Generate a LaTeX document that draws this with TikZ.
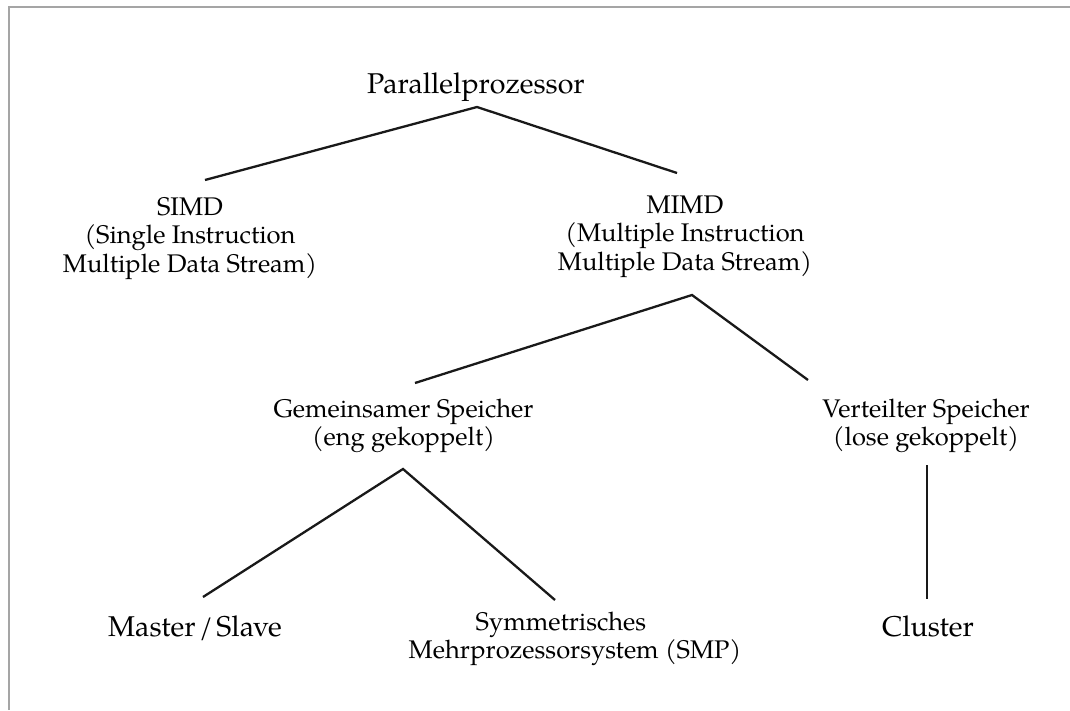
\documentclass[tikz,border=0pt]{standalone}
\usepackage{fontspec}
\setmainfont{TeX Gyre Pagella}
\usetikzlibrary{calc}
\definecolor{framegray}{RGB}{165,165,165}
\begin{document}
\begin{tikzpicture}[x=1pt,y=-1pt,
  big/.style={font=\fontsize{28.6}{34}\selectfont, inner sep=0pt, anchor=base, align=center},
  mid/.style={font=\fontsize{25.5}{28.5}\selectfont, inner sep=0pt, anchor=base, align=center},
  link/.style={line width=2.3pt, color=black!90},
  frame/.style={line width=2pt, color=framegray}]
\useasboundingbox (0,0) rectangle (1070,710);
% page frame (top and left edge)
\draw[frame] (9,710) -- (9,7) -- (1070,7);

% tree nodes (multi-line nodes are placed by the baseline of their last line)
\node[big] (par) at (476,93) {Parallelprozessor};
\node[mid] (simd) at (190,272) {SIMD\\(Single Instruction\\Multiple Data Stream)};
\node[mid] (mimd) at (685,270) {MIMD\\(Multiple Instruction\\Multiple Data Stream)};
\node[mid, font=\fontsize{25.5}{28}\selectfont] (shared) at (403.5,445) {Gemeinsamer Speicher\\(eng gekoppelt)};
\node[mid, font=\fontsize{25.5}{28}\selectfont] (dist) at (926,445) {Verteilter Speicher\\(lose gekoppelt)};
\node[big] (ms) at (195,636) {Master\kern3.5pt/\kern3.5pt Slave};
\node[mid, font=\fontsize{25.5}{26}\selectfont] (smp) at (575,658) {Symmetrisches\kern28pt\\Mehrprozessorsystem (SMP)};
\node[big] (cl) at (928,636) {Cluster};

% connectors
\draw[link] ($(simd.base)+(15,-92)$) -- ($(par.base)+(1,14)$) -- ($(mimd.base)+(-8,-97)$);
\draw[link] ($(shared.base)+(11.5,-62)$) -- ($(mimd.base)+(7,25)$) -- ($(dist.base)+(-118,-65)$);
\draw[link] ($(ms.base)+(8,-39)$) -- ($(shared.base)+(-0.5,24)$) -- ($(smp.base)+(-20,-58)$);
\draw[link] ($(dist.base)+(1,20)$) -- ($(cl.base)+(-1,-37)$);
\end{tikzpicture}
\end{document}
